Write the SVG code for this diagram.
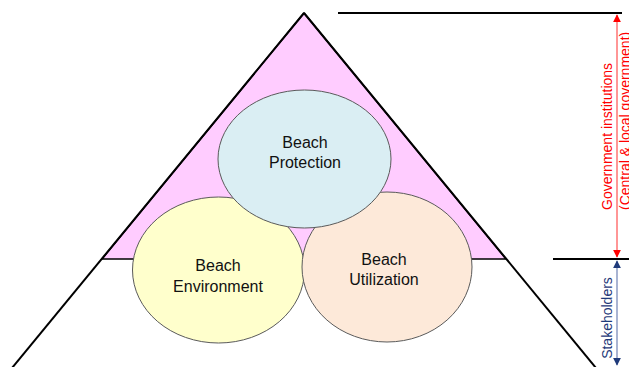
<svg xmlns="http://www.w3.org/2000/svg" width="629" height="367" viewBox="0 0 629 367">
  <style>
    .circ { stroke: #5a5a5a; stroke-width: 1; }
    .lbl { font-family: "Liberation Sans", Arial, sans-serif; font-size: 16px; fill: #111; text-anchor: middle; }
    .side { font-family: "Liberation Sans", Arial, sans-serif; font-size: 14px; }
    .rule { stroke: #000; stroke-width: 2; fill: none; }
  </style>
  <defs>
    <marker id="redHead" viewBox="0 0 10 10" refX="9" refY="5" markerWidth="8" markerHeight="8" orient="auto-start-reverse" markerUnits="userSpaceOnUse">
      <path d="M0,0 L10,5 L0,10 Z" fill="#ff0000"/>
    </marker>
    <marker id="blueHead" viewBox="0 0 10 10" refX="9" refY="5" markerWidth="8" markerHeight="8" orient="auto-start-reverse" markerUnits="userSpaceOnUse">
      <path d="M0,0 L10,5 L0,10 Z" fill="#1f3a7a"/>
    </marker>
  </defs>

  <rect width="629" height="367" fill="#ffffff"/>

  <!-- pink upper triangle -->
  <polygon points="304,13 102,259 506,259" fill="#ffccff" stroke="#000" stroke-width="1.5"/>

  <!-- pyramid sides and level rules -->
  <g id="connectors">
    <line class="rule" x1="304" y1="13" x2="12" y2="368"/>
    <line class="rule" x1="304" y1="13" x2="596" y2="368"/>
    <line class="rule" x1="338" y1="13" x2="622" y2="13"/>
    <line class="rule" x1="553" y1="259" x2="629" y2="259"/>
    <line x1="617" y1="15" x2="617" y2="257" stroke="#ff5050" stroke-width="1.2" marker-start="url(#redHead)" marker-end="url(#redHead)"/>
    <line x1="617" y1="261" x2="617" y2="365" stroke="#6f82b4" stroke-width="1.2" marker-start="url(#blueHead)" marker-end="url(#blueHead)"/>
  </g>

  <g id="environment">
    <ellipse class="circ" cx="218.5" cy="270" rx="86" ry="73" fill="#ffffcc"/>
    <text class="lbl" x="218" y="271">Beach</text>
    <text class="lbl" x="218" y="292">Environment</text>
  </g>

  <g id="utilization">
    <ellipse class="circ" cx="387" cy="267" rx="85" ry="75" fill="#fde9d9"/>
    <text class="lbl" x="384" y="265">Beach</text>
    <text class="lbl" x="384" y="285">Utilization</text>
  </g>

  <g id="protection">
    <ellipse class="circ" cx="304.5" cy="159" rx="86.5" ry="69" fill="#daeef3"/>
    <text class="lbl" x="305" y="148">Beach</text>
    <text class="lbl" x="305" y="168">Protection</text>
  </g>

  <g id="government">
    <text class="side" fill="#ff0000" transform="translate(612,210) rotate(-90)">Government institutions</text>
    <text class="side" fill="#ff0000" transform="translate(630,210) rotate(-90)">(Central &amp; local government)</text>
  </g>

  <g id="stakeholders">
    <text class="side" fill="#1f3a7a" text-anchor="middle" transform="translate(612,318) rotate(-90)">Stakeholders</text>
  </g>
</svg>
